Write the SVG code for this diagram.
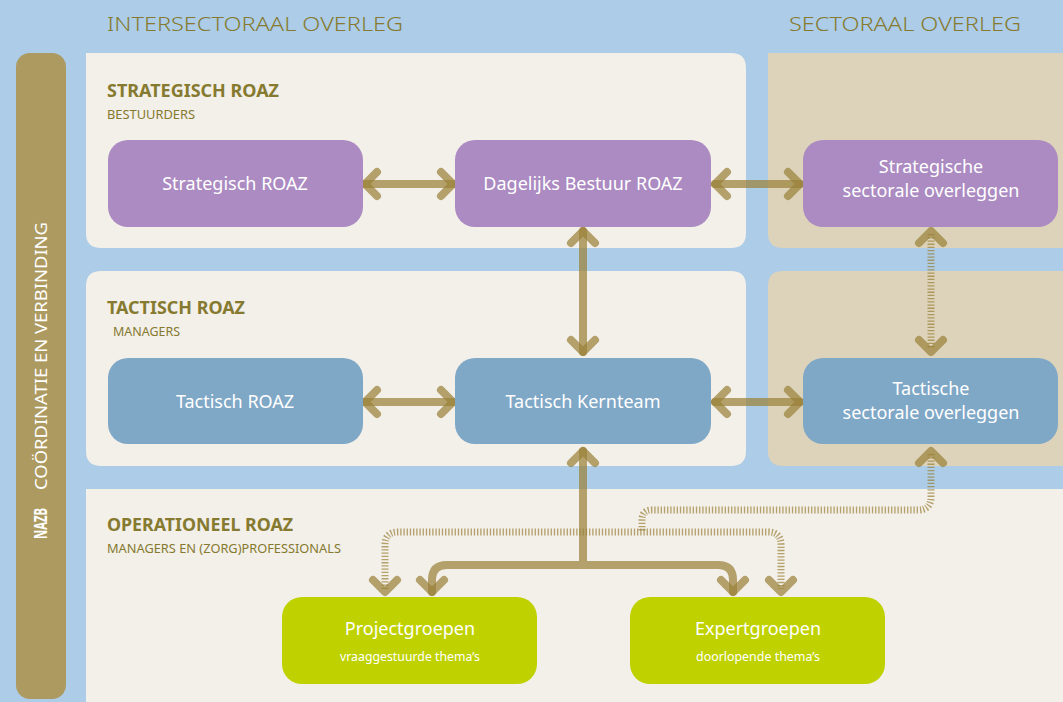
<svg xmlns="http://www.w3.org/2000/svg" width="1063" height="702" viewBox="0 0 1063 702">
<defs>
<style>
.t{font-family:"Noto Sans","Liberation Sans",sans-serif}
.title{font-size:20px;fill:#857A2F;font-weight:300}
.hd{font-size:17px;fill:#857A2F;font-weight:bold}
.sub{font-size:12px;fill:#857A2F}
.nl{font-size:18px;fill:#ffffff;text-anchor:middle}
.ns{font-size:12.5px;fill:#ffffff;text-anchor:middle}
.cr{fill:#F3EFE9}
.cs{fill:#DDD3BB}
.pu{fill:#AB8BC1}
.bl{fill:#7FA7C6}
.gr{fill:#BFD200}
.ln{fill:none;stroke:#9A8139;stroke-opacity:0.72;stroke-width:8;stroke-linecap:round;stroke-linejoin:round}
.dt{fill:none;stroke:#9A8139;stroke-opacity:0.72;stroke-width:7;stroke-dasharray:1.3 1.9}
</style>
</defs>
<rect x="0" y="0" width="1063" height="702" fill="#ACCCE8"/>
<g id="sidebar">
<rect x="16" y="53" width="50" height="646" rx="14" fill="#AD9A60"/>
<text class="t" transform="translate(47,539) rotate(-90)" font-size="17" font-weight="bold" fill="#ffffff" textLength="31" lengthAdjust="spacingAndGlyphs">NAZB</text>
<text class="t" transform="translate(47,490) rotate(-90)" font-size="16" fill="#ffffff" textLength="268" lengthAdjust="spacingAndGlyphs">COÖRDINATIE EN VERBINDING</text>
</g>
<g id="panels">
<path class="cr" d="M86,53 H731 Q746,53 746,68 V233 Q746,248 731,248 H101 Q86,248 86,233 Z"/>
<path class="cr" d="M86,286 Q86,271 101,271 H731 Q746,271 746,286 V451 Q746,466 731,466 H101 Q86,466 86,451 Z"/>
<path class="cr" d="M86,489 H1063 V702 H86 Z"/>
<path class="cs" d="M768,53 H1063 V248 H783 Q768,248 768,233 Z"/>
<path class="cs" d="M768,286 Q768,271 783,271 H1063 V466 H783 Q768,466 768,451 Z"/>
</g>
<g id="titles">
<text class="t title" x="107" y="31" textLength="296" lengthAdjust="spacingAndGlyphs">INTERSECTORAAL OVERLEG</text>
<text class="t title" x="789" y="31" textLength="232" lengthAdjust="spacingAndGlyphs">SECTORAAL OVERLEG</text>
<text class="t hd" x="107" y="97" textLength="172" lengthAdjust="spacingAndGlyphs">STRATEGISCH ROAZ</text>
<text class="t sub" x="107" y="119" textLength="88" lengthAdjust="spacingAndGlyphs">BESTUURDERS</text>
<text class="t hd" x="107" y="314" textLength="138" lengthAdjust="spacingAndGlyphs">TACTISCH ROAZ</text>
<text class="t sub" x="113" y="336" textLength="67" lengthAdjust="spacingAndGlyphs">MANAGERS</text>
<text class="t hd" x="107" y="531" textLength="186" lengthAdjust="spacingAndGlyphs">OPERATIONEEL ROAZ</text>
<text class="t sub" x="107" y="553" textLength="234" lengthAdjust="spacingAndGlyphs">MANAGERS EN (ZORG)PROFESSIONALS</text>
</g>
<g id="connectors">
<path class="ln" d="M365,184 H453"/>
<path class="ln" d="M377,172 L365,184 L377,196"/>
<path class="ln" d="M441,172 L453,184 L441,196"/>
<path class="ln" d="M715,184 H800"/>
<path class="ln" d="M727,172 L715,184 L727,196"/>
<path class="ln" d="M788,172 L800,184 L788,196"/>
<path class="ln" d="M365,402 H453"/>
<path class="ln" d="M377,390 L365,402 L377,414"/>
<path class="ln" d="M441,390 L453,402 L441,414"/>
<path class="ln" d="M715,402 H800"/>
<path class="ln" d="M727,390 L715,402 L727,414"/>
<path class="ln" d="M788,390 L800,402 L788,414"/>
<path class="ln" d="M583,231 V352"/>
<path class="ln" d="M571,243 L583,231 L595,243"/>
<path class="ln" d="M571,340 L583,352 L595,340"/>
<path class="dt" d="M931,234 V349"/>
<path class="ln" d="M919,243 L931,231 L943,243"/>
<path class="ln" d="M919,340 L931,352 L943,340"/>
<path class="ln" d="M583,451 V565 M432,592 V580 Q432,565 447,565 H718 Q733,565 733,580 V592"/>
<path class="ln" d="M571,463 L583,451 L595,463"/>
<path class="ln" d="M420,580 L432,592 L444,580"/>
<path class="ln" d="M721,580 L733,592 L745,580"/>
<path class="dt" d="M931,454 V497 Q931,510 918,510 H652 Q642,510 642,520 V532"/>
<path class="dt" d="M385,589 V545 Q385,532 398,532 H768 Q781,532 781,545 V589"/>
<path class="ln" d="M919,463 L931,451 L943,463"/>
<path class="ln" d="M373,580 L385,592 L397,580"/>
<path class="ln" d="M769,580 L781,592 L793,580"/>
</g>
<g id="n-strategisch"><rect class="pu" x="108" y="140" width="255" height="87" rx="20"/><text class="t nl" x="235" y="190">Strategisch ROAZ</text></g>
<g id="n-dagelijks"><rect class="pu" x="455" y="140" width="256" height="87" rx="20"/><text class="t nl" x="583" y="190">Dagelijks Bestuur ROAZ</text></g>
<g id="n-strat-sect"><rect class="pu" x="803" y="140" width="255" height="87" rx="20"/><text class="t nl" x="931" y="173">Strategische</text><text class="t nl" x="931" y="197">sectorale overleggen</text></g>
<g id="n-tactisch"><rect class="bl" x="108" y="358" width="255" height="86" rx="20"/><text class="t nl" x="235" y="408">Tactisch ROAZ</text></g>
<g id="n-kernteam"><rect class="bl" x="455" y="358" width="256" height="86" rx="20"/><text class="t nl" x="583" y="408">Tactisch Kernteam</text></g>
<g id="n-tact-sect"><rect class="bl" x="803" y="358" width="255" height="86" rx="20"/><text class="t nl" x="931" y="395">Tactische</text><text class="t nl" x="931" y="419">sectorale overleggen</text></g>
<g id="n-project"><rect class="gr" x="282" y="597" width="255" height="87" rx="20"/><text class="t nl" x="410" y="635">Projectgroepen</text><text class="t ns" x="410" y="661" textLength="140" lengthAdjust="spacingAndGlyphs">vraaggestuurde thema’s</text></g>
<g id="n-expert"><rect class="gr" x="630" y="597" width="255" height="87" rx="20"/><text class="t nl" x="758" y="635">Expertgroepen</text><text class="t ns" x="758" y="661" textLength="124" lengthAdjust="spacingAndGlyphs">doorlopende thema’s</text></g>
</svg>
